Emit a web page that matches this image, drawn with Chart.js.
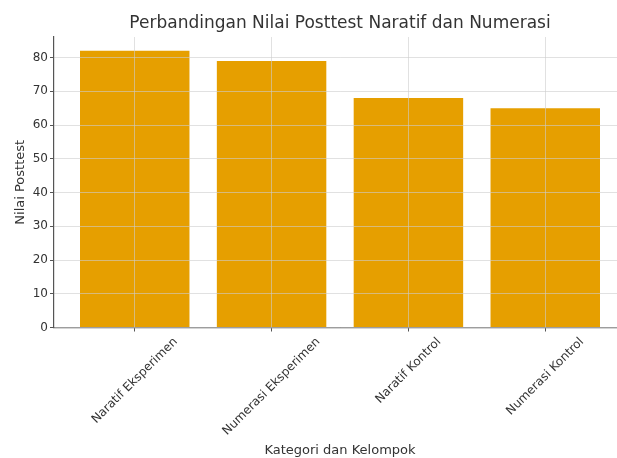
<!DOCTYPE html>
<html>
<head>
<meta charset="utf-8">
<script src="https://cdn.jsdelivr.net/npm/chart.js@4/dist/chart.umd.min.js"></script>
<style>
  html, body { margin: 0; padding: 0; background: #fff; overflow: hidden; }
  #wrap { width: 617px; height: 458px; overflow: hidden; }
</style>
</head>
<body>
<div id="wrap"><canvas id="chart" width="626" height="458"></canvas></div>
<script>
// === DATA ===
const categories = ["Naratif Eksperimen", "Numerasi Eksperimen", "Naratif Kontrol", "Numerasi Kontrol"];
const posttest = [82, 79, 68, 65];
const yTicks = [0, 10, 20, 30, 40, 50, 60, 70, 80];
const yMax = 86.1;

const chartTitle = "Perbandingan Nilai Posttest Naratif dan Numerasi";
const xTitle = "Kategori dan Kelompok";
const yTitle = "Nilai Posttest";

// === STYLE ===
const FONT = '"DejaVu Sans", Verdana, sans-serif';
const TEXT = "#333";
const BAR = "#E69F00";
const GRID = "rgba(205,205,205,0.6)";
const AXIS = "#555";

// === PLUGINS ===
const titlePlugin = {
  id: "mainTitle",
  afterDraw(chart) {
    const { ctx, chartArea } = chart;
    ctx.save();
    ctx.font = "17px " + FONT;
    ctx.fillStyle = TEXT;
    ctx.textAlign = "center";
    ctx.textBaseline = "alphabetic";
    ctx.fillText(chartTitle, (chartArea.left + chartArea.right) / 2, 28);
    ctx.restore();
  }
};

// rotated x labels, centred on their tick like matplotlib
const xLabelPlugin = {
  id: "xLabels",
  afterDraw(chart) {
    const { ctx, chartArea, scales } = chart;
    ctx.save();
    ctx.font = "12px " + FONT;
    ctx.fillStyle = TEXT;
    ctx.textAlign = "center";
    ctx.textBaseline = "middle";
    categories.forEach((label, i) => {
      const w = ctx.measureText(label).width;
      const box = (w + 14) * Math.SQRT1_2;
      const cx = scales.x.getPixelForValue(i);
      const cy = chartArea.bottom + 7.5 + box / 2;
      ctx.save();
      ctx.translate(cx, cy);
      ctx.rotate(-Math.PI / 4);
      ctx.fillText(label, 0, 0);
      ctx.restore();
    });
    ctx.restore();
  }
};

// === CHART ===
new Chart(document.getElementById("chart"), {
  type: "bar",
  data: {
    datasets: [{
      data: posttest.map((v, i) => ({ x: i, y: v })),
      backgroundColor: BAR,
      borderWidth: 0,
      barPercentage: 0.8,
      categoryPercentage: 1.0
    }]
  },
  options: {
    responsive: false,
    animation: false,
    layout: { padding: { top: 37, right: 0, bottom: 0, left: 0 } },
    plugins: {
      legend: { display: false },
      tooltip: { enabled: false }
    },
    scales: {
      x: {
        type: "linear",
        offset: false,
        min: -0.59,
        max: categories.length - 1 + 0.59,
        afterBuildTicks: (scale) => {
          scale.ticks = categories.map((c, i) => ({ value: i }));
        },
        afterFit: (scale) => { scale.height = 130.5; },
        ticks: { display: false },
        grid: { offset: false, color: GRID, lineWidth: 1, z: 1, tickLength: 4, tickColor: AXIS },
        border: { display: true, color: AXIS, width: 1.2, z: 1 },
        title: {
          display: true,
          text: xTitle,
          color: TEXT,
          font: { family: FONT, size: 13 },
          padding: { top: 0, bottom: 0 }
        }
      },
      y: {
        min: 0,
        max: yMax,
        afterBuildTicks: (scale) => {
          scale.ticks = yTicks.map(v => ({ value: v }));
        },
        afterFit: (scale) => { scale.width = 54; },
        ticks: {
          color: TEXT,
          font: { family: FONT, size: 12 },
          padding: 2
        },
        grid: { color: GRID, lineWidth: 1, z: 1, tickLength: 4, tickColor: AXIS },
        border: { display: true, color: AXIS, width: 1.2, z: 1 },
        title: {
          display: true,
          text: yTitle,
          color: TEXT,
          font: { family: FONT, size: 13 },
          padding: { top: 13, bottom: 0 }
        }
      }
    }
  },
  plugins: [titlePlugin, xLabelPlugin]
});
</script>
</body>
</html>
